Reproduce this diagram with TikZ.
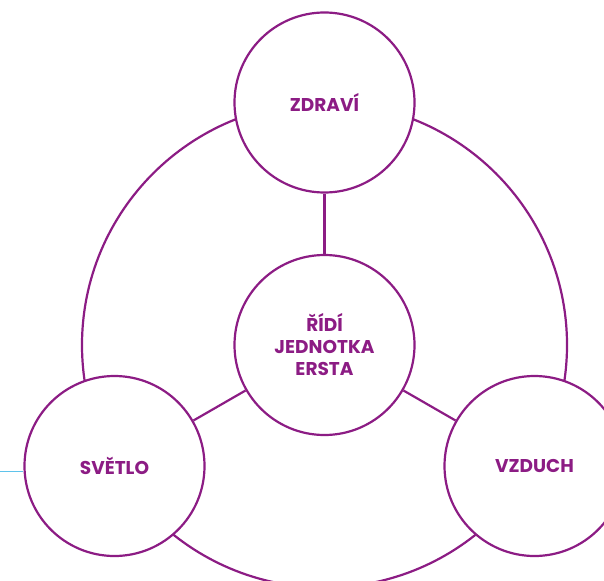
\documentclass[tikz,border=0pt]{standalone}
\usepackage{fontspec}
\setmainfont{Poppins}
\definecolor{ersta}{RGB}{140,28,132}
\definecolor{lineblue}{RGB}{95,195,235}
\begin{document}
\begin{tikzpicture}[x=1pt,y=-1pt,
  hub/.style={circle,draw=ersta,line width=2.2pt,fill=white,minimum size=180pt,inner sep=0pt,
    text=ersta,font=\fontsize{18.5}{22}\selectfont\bfseries,align=center},
  link/.style={draw=ersta,line width=2.2pt}]
\useasboundingbox (0,0) rectangle (604,580);
\coordinate (mid) at (324.5,345);
\draw[link] (mid) circle (242.5);
\node[hub] (c) at (mid) {ŘÍDÍ\\JEDNOTKA\\ERSTA};
\node[hub] (z) at (324.5,102.5) {ZDRAVÍ};
\node[hub] (s) at (114.5,466) {SVĚTLO};
\node[hub] (v) at (534.5,466) {VZDUCH};
\draw[link] (c) -- (z);
\draw[link] (c) -- (s);
\draw[link] (c) -- (v);
\coordinate (edge) at (0,471.5);
\draw[lineblue,line width=1.2pt] (edge) -- (s.west |- edge);
\end{tikzpicture}
\end{document}
